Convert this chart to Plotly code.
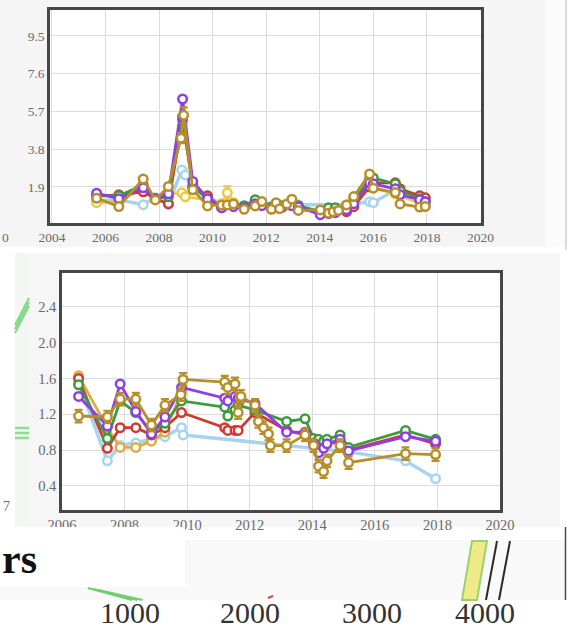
import plotly.graph_objects as go

W, H = 567, 630

# ---------------- upper panel: monthly ratio series ----------------
top_dates = [2005.67, 2006.5, 2007.41, 2007.86, 2008.35, 2008.88, 2009.26, 2009.81,
             2010.34, 2010.78, 2011.18, 2011.59, 2011.84, 2012.2, 2012.58, 2012.96,
             2013.2, 2014.02, 2014.33, 2014.58, 2015.0, 2015.27, 2015.86, 2016.0,
             2016.82, 2017.0, 2017.73, 2017.94]
top_purple = [1.58, 1.30, 1.85, 1.30, 1.55, 6.32, 2.17, 1.30, 0.85, 0.90, 0.85, 1.05,
              0.95, 0.80, 0.85, 0.95, 0.90, 0.50, 0.55, 0.60, 0.75, 1.05, 2.10, 2.05,
              1.80, 1.50, 1.25, 1.15]
top_green = [1.45, 1.45, 2.00, 1.30, 1.40, 5.45, 1.90, 1.30, 0.92, 1.00, 0.95, 1.25,
             1.10, 0.90, 0.95, 1.10, 0.95, 0.65, 0.85, 0.85, 0.90, 1.20, 2.30, 2.35,
             2.05, 1.70, 1.30, 1.15]
top_red = [1.45, 1.50, 1.65, 1.30, 1.05, 5.30, 1.90, 1.45, 0.85, 0.95, 0.90, 1.10,
           1.00, 0.85, 0.90, 1.00, 0.85, 0.55, 0.70, 0.65, 0.65, 0.90, 1.90, 2.10,
           2.10, 1.80, 1.45, 1.35]

top_blue_dates = [2005.67, 2006.5, 2007.41, 2007.86, 2008.35, 2008.85, 2008.98, 2009.26,
                  2009.81, 2010.34, 2013.2, 2015.0, 2015.86, 2016.0, 2016.82, 2017.73,
                  2017.94]
top_blue = [1.20, 1.25, 1.00, 1.35, 1.00, 2.75, 2.50, 1.95, 1.45, 1.00, 1.00, 1.00,
            1.15, 1.10, 1.75, 1.45, 1.35]

top_yellow_dates = [2005.67, 2006.5, 2007.41, 2007.86, 2008.35, 2008.85, 2008.98,
                    2009.81, 2010.34, 2010.55, 2010.78, 2011.18, 2011.59, 2012.2,
                    2013.2, 2014.33, 2015.27, 2015.86, 2016.82, 2017.94]
top_yellow = [1.10, 1.15, 1.85, 1.30, 1.55, 1.60, 1.40, 1.25, 1.05, 1.60, 1.10, 0.90,
              0.95, 0.80, 0.75, 0.60, 1.35, 1.90, 1.55, 0.95]
top_yellow_err = [0.05, 0.05, 0.05, 0.05, 0.05, 0.08, 0.05, 0.05, 0.05, 0.32, 0.05,
                  0.05, 0.05, 0.05, 0.05, 0.05, 0.05, 0.05, 0.05, 0.05]

top_gold_dates = [2005.67, 2006.5, 2007.41, 2007.86, 2008.35, 2008.82, 2008.92, 2009.26,
                  2009.81, 2010.34, 2010.55, 2010.78, 2011.18, 2011.59, 2011.84, 2012.2,
                  2012.37, 2012.5, 2012.77, 2012.96, 2013.2, 2014.02, 2014.33, 2014.5,
                  2014.7, 2015.0, 2015.27, 2015.86, 2016.0, 2016.82, 2017.0, 2017.73,
                  2017.94]
top_gold = [1.33, 0.91, 2.30, 1.24, 1.92, 4.35, 5.50, 1.75, 0.94, 0.99, 0.99, 1.04,
            0.77, 0.94, 1.16, 0.77, 1.10, 0.80, 1.04, 1.28, 0.71, 0.74, 0.57, 0.65,
            0.71, 0.99, 1.41, 2.55, 1.83, 1.61, 1.04, 0.88, 0.91]
top_gold_err = [0.06, 0.06, 0.08, 0.06, 0.06, 0.25, 0.40, 0.06, 0.06, 0.06, 0.06, 0.06,
                0.06, 0.06, 0.06, 0.06, 0.06, 0.06, 0.06, 0.06, 0.06, 0.06, 0.06, 0.06,
                0.06, 0.06, 0.06, 0.08, 0.06, 0.06, 0.06, 0.06, 0.06]

top_yticks = [1.9, 3.8, 5.7, 7.6, 9.5]

# ---------------- lower panel: yearly ratio series ----------------
bot_dates = [2006.53, 2007.45, 2007.86, 2008.36, 2008.86, 2009.29, 2009.82, 2011.2,
             2011.3, 2011.53, 2011.63, 2012.17, 2013.18, 2013.77, 2014.04, 2014.2,
             2014.36, 2014.47, 2014.89, 2015.16, 2016.98, 2017.94]
bot_purple = [1.40, 1.07, 1.54, 1.23, 0.98, 1.17, 1.50, 1.38, 1.35, 1.40, 1.38, 1.32,
              1.00, 1.00, 0.88, 0.77, 0.82, 0.87, 0.92, 0.79, 0.95, 0.90]
bot_green = [1.53, 0.93, 1.35, 1.22, 1.00, 1.10, 1.35, 1.28, 1.18, 1.25, 1.30, 1.25,
             1.12, 1.15, 0.93, 0.92, 0.90, 0.92, 0.97, 0.83, 1.02, 0.92]
bot_red = [1.60, 0.82, 1.05, 1.05, 0.97, 1.05, 1.22, 1.05, 1.02, 1.02, 1.02, 1.22,
           1.02, 0.97, 0.90, 0.85, 0.85, 0.88, 0.88, 0.80, 0.97, 0.87]

bot_blue_dates = [2006.53, 2007.45, 2007.86, 2008.36, 2008.86, 2009.29, 2009.82,
                  2009.87, 2015.16, 2016.98, 2017.94]
bot_blue = [1.55, 0.68, 0.85, 0.88, 0.92, 0.95, 1.05, 0.97, 0.78, 0.68, 0.48]

bot_yellow_dates = [2006.53, 2007.45, 2007.86, 2008.36, 2008.86, 2009.29, 2009.82]
bot_yellow = [1.63, 1.05, 0.83, 0.83, 0.90, 1.00, 1.45]

bot_gold_dates = [2006.53, 2007.45, 2007.86, 2008.36, 2008.86, 2009.29, 2009.8, 2009.87,
                  2011.2, 2011.3, 2011.53, 2011.63, 2011.72, 2012.17, 2012.28, 2012.44,
                  2012.6, 2012.66, 2013.18, 2013.77, 2014.04, 2014.2, 2014.36, 2014.47,
                  2014.89, 2015.16, 2016.98, 2017.94]
bot_gold = [1.18, 1.17, 1.37, 1.37, 1.08, 1.30, 1.42, 1.59, 1.56, 1.50, 1.54, 1.22,
            1.40, 1.30, 1.12, 1.05, 0.98, 0.85, 0.85, 0.97, 0.85, 0.62, 0.56, 0.68,
            0.85, 0.66, 0.76, 0.75]
bot_gold_err = [0.07] * len(bot_gold)

bot_yticks = [0.4, 0.8, 1.2, 1.6, 2.0, 2.4]

# neighbouring axis labels of the next figure
bottom_ticks = ["1000", "2000", "3000", "4000"]

COLORS = {
    "purple": "#8d3ee8",
    "green": "#3d9b3d",
    "red": "#cf3a30",
    "blue": "#a8d3ef",
    "yellow": "#ebc944",
    "gold": "#b78f2a",
}

# plot-area boxes in pixels (left, top, right, bottom)
TOP_BOX = (50, 10, 481, 223)
BOT_BOX = (62, 273, 500, 510)


def fx(p):
    return p / W


def fy(p):
    return 1 - p / H


def series(x, y, color, xa, ya, err=None, lw=2.8, ms=8.5):
    tr = go.Scatter(
        x=x, y=y, mode="lines+markers", xaxis=xa, yaxis=ya,
        line=dict(color=color, width=lw),
        marker=dict(symbol="circle", size=ms, color="white",
                    line=dict(color=color, width=2.5)),
        showlegend=False, hoverinfo="skip",
    )
    if err is not None:
        tr.error_y = dict(type="data", array=err, color=color, thickness=2.2, width=4)
    return tr


fig = go.Figure()

# upper chart
fig.add_trace(series(top_blue_dates, top_blue, COLORS["blue"], "x", "y", lw=3.5))
fig.add_trace(series(top_yellow_dates, top_yellow, COLORS["yellow"], "x", "y", err=top_yellow_err))
fig.add_trace(series(top_dates, top_red, COLORS["red"], "x", "y"))
fig.add_trace(series(top_dates, top_green, COLORS["green"], "x", "y"))
fig.add_trace(series(top_dates, top_purple, COLORS["purple"], "x", "y"))
fig.add_trace(series(top_gold_dates, top_gold, COLORS["gold"], "x", "y", err=top_gold_err))

# lower chart
fig.add_trace(series(bot_blue_dates, bot_blue, COLORS["blue"], "x2", "y2", lw=3.5))
fig.add_trace(series(bot_yellow_dates, bot_yellow, "#d9ad4a", "x2", "y2"))
fig.add_trace(series(bot_dates, bot_red, COLORS["red"], "x2", "y2"))
fig.add_trace(series(bot_dates, bot_green, COLORS["green"], "x2", "y2"))
fig.add_trace(series(bot_dates, bot_purple, COLORS["purple"], "x2", "y2"))
fig.add_trace(series(bot_gold_dates, bot_gold, COLORS["gold"], "x2", "y2", err=bot_gold_err))

tick_font = dict(family="Liberation Serif", size=13.5, color="#6a6a6a")
frame = dict(showline=True, mirror=True, linewidth=2.5, linecolor="#474747",
             gridcolor="#dcdcdc", gridwidth=1, zeroline=False, ticks="",
             fixedrange=True, automargin=False)

fig.update_layout(
    width=W, height=H,
    margin=dict(l=0, r=0, t=0, b=0, pad=0),
    paper_bgcolor="white",
    plot_bgcolor="white",
    xaxis=dict(domain=[fx(TOP_BOX[0]), fx(TOP_BOX[2])], range=[2003.93, 2020.02],
               dtick=2, tick0=2004, anchor="y", tickfont=tick_font, **frame),
    yaxis=dict(domain=[fy(TOP_BOX[3]), fy(TOP_BOX[1])], range=[0.08, 10.8],
               tickvals=top_yticks, ticktext=[f"{v:.1f}" for v in top_yticks],
               anchor="x", tickfont=tick_font, **frame),
    xaxis2=dict(domain=[fx(BOT_BOX[0]), fx(BOT_BOX[2])], range=[2006, 2020], dtick=2,
                tick0=2006, anchor="y2", tickfont=dict(tick_font, size=14.5), **frame),
    yaxis2=dict(domain=[fy(BOT_BOX[3]), fy(BOT_BOX[1])], range=[0.13, 2.78],
                tickvals=bot_yticks, ticktext=[f"{v:.1f}" for v in bot_yticks],
                anchor="x2", tickfont=dict(tick_font, size=14.5), **frame),
)

shapes = []


def rect(x0, y0, x1, y1, color, layer="below"):
    shapes.append(dict(type="rect", xref="paper", yref="paper",
                       x0=fx(x0), x1=fx(x1), y0=fy(y1), y1=fy(y0),
                       fillcolor=color, line=dict(width=0), layer=layer))


def seg(x0, y0, x1, y1, color, width, layer="above"):
    shapes.append(dict(type="line", xref="paper", yref="paper",
                       x0=fx(x0), y0=fy(y0), x1=fx(x1), y1=fy(y1),
                       line=dict(color=color, width=width), layer=layer))


# page panels, with white plot areas on top of them
rect(0, 0, 545, 247, "#f5f5f5")
rect(545, 0, 565, 247, "#fbfbfb")
rect(15, 253, 30, 527, "#f3f6f3")
rect(30, 253, 560, 527, "#f6f6f6")
rect(*TOP_BOX, "white")
rect(*BOT_BOX, "white")
seg(566, 0, 566, 250, "#b5b5b5", 1, layer="below")

# band below the lower chart
rect(0, 527, 185, 600, "white", layer="above")
rect(185, 540, 565, 600, "#f9f9f9", layer="above")
rect(0, 587, 185, 600, "#f9f9f9", layer="above")
rect(0, 600, 567, 630, "white", layer="above")
seg(565.5, 527, 565.5, 600, "#4a4a4a", 1.5)

# fragments of neighbouring plots
for d in (0, 4, 8):
    seg(15, 333 - d, 29, 306 - d, "#86d886", 2)
for yy in (428, 433, 438):
    seg(15, yy, 29, yy, "#8fdc8f", 2.5)
for d in (0, 3.5, 7):
    seg(88 + d * 1.5, 588 + d * 0.3, 132 + d * 1.5, 600, "#6fcf6f", 2)
seg(268, 598, 273, 596, "#d9463a", 2)

shapes.append(dict(type="path", xref="paper", yref="paper", layer="above",
                   path=f"M {fx(472)},{fy(541)} L {fx(487)},{fy(541)} "
                        f"L {fx(477)},{fy(600)} L {fx(462)},{fy(600)} Z",
                   fillcolor="#eeea88", line=dict(color="#9ad36a", width=2)))
seg(497, 541, 486, 600, "#2a2a2a", 2)
seg(510, 541, 499, 600, "#2a2a2a", 2)

fig.update_layout(shapes=shapes)

ann = []
ann.append(dict(text="0", x=0, y=fy(237), xref="paper", yref="paper",
                xanchor="left", yanchor="middle", showarrow=False,
                font=dict(family="Liberation Serif", size=13.5, color="#6a6a6a")))
ann.append(dict(text="7", x=fx(1), y=fy(506), xref="paper", yref="paper",
                xanchor="left", yanchor="middle", showarrow=False,
                font=dict(family="Liberation Serif", size=14, color="#6a6a6a")))
ann.append(dict(text="<b>rs</b>", x=0, y=fy(559), xref="paper", yref="paper",
                xanchor="left", yanchor="middle", showarrow=False,
                font=dict(family="Liberation Serif", size=42, color="#111")))
for label, cx in zip(bottom_ticks, [130, 250, 372, 485]):
    ann.append(dict(text=label, x=fx(cx), y=fy(612), xref="paper", yref="paper",
                    xanchor="center", yanchor="middle", showarrow=False,
                    font=dict(family="Liberation Serif", size=30, color="#333")))
fig.update_layout(annotations=ann)

fig.write_html("out.html")
